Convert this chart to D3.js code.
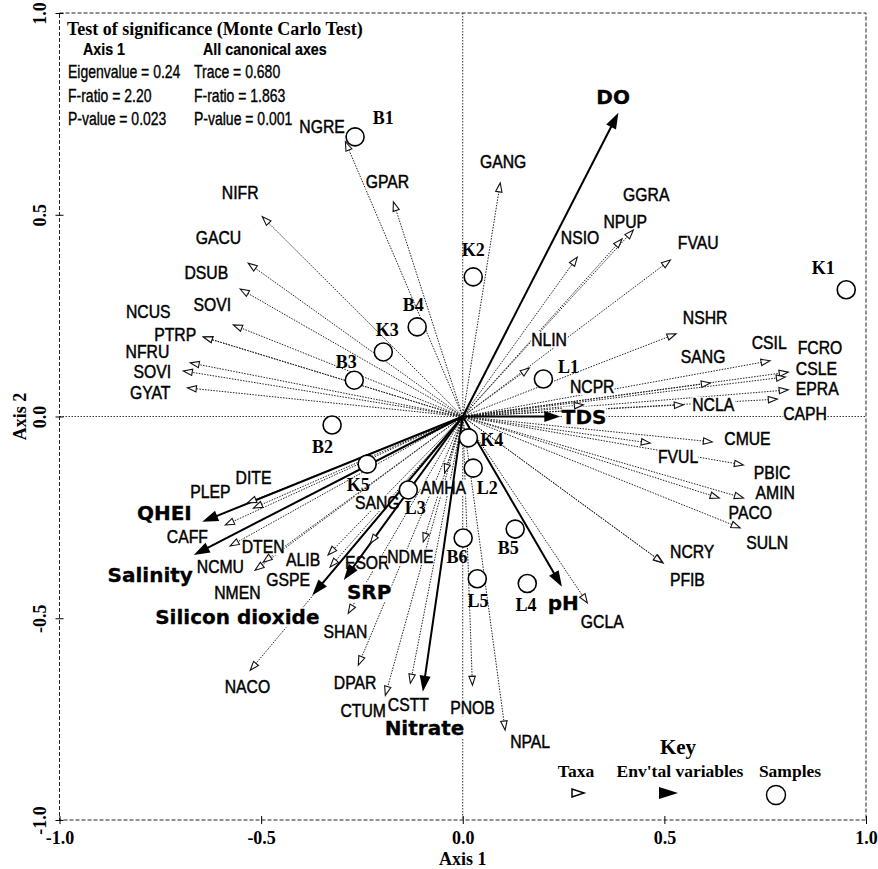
<!DOCTYPE html>
<html><head><meta charset="utf-8">
<script src="https://cdn.jsdelivr.net/npm/d3@7"></script>
<style>
body{margin:0;background:#fff;}
svg{display:block;}
</style></head><body>
<svg id="chart" width="878" height="869"></svg>
<script>
// ---------- DATA ----------
const taxaNames = ["NGRE","GPAR","GANG","NIFR","GACU","DSUB","SOVI","NCUS","PTRP","NFRU","SOVI","GYAT",
  "GGRA","NPUP","NSIO","FVAU","NLIN","NSHR","CSIL","FCRO","CSLE","EPRA","CAPH","SANG","NCPR","NCLA",
  "CMUE","FVUL","PBIC","AMIN","PACO","SULN","NCRY","PFIB","GCLA",
  "DITE","PLEP","CAFF","DTEN","NCMU","NMEN","ALIB","GSPE","SANG","AMHA","ESOR","NDME","SHAN","NACO",
  "DPAR","CTUM","CSTT","PNOB","NPAL"];
const taxaX = [-0.291,-0.172,0.093,-0.497,-0.532,-0.552,-0.569,-0.643,-0.643,-0.676,-0.693,-0.683,
  0.423,0.395,0.284,0.515,0.165,0.529,0.762,0.807,0.800,0.807,0.780,0.614,0.299,0.547,
  0.619,0.465,0.696,0.696,0.636,0.688,0.497,0.495,0.309,
  -0.519,-0.534,-0.589,-0.577,-0.495,-0.515,-0.334,-0.329,-0.160,-0.045,-0.229,-0.098,-0.284,-0.527,
  -0.259,-0.192,-0.130,0.024,0.105];
const taxaY = [0.681,0.532,0.579,0.495,0.380,0.316,0.227,0.197,0.197,0.133,0.113,0.071,
  0.462,0.440,0.395,0.388,0.120,0.205,0.138,0.110,0.098,0.066,0.043,0.083,0.029,0.029,
  -0.063,-0.066,-0.120,-0.202,-0.202,-0.276,-0.363,-0.362,-0.462,
  -0.227,-0.214,-0.269,-0.321,-0.361,-0.381,-0.343,-0.373,-0.190,-0.140,-0.314,-0.311,-0.488,-0.629,
  -0.616,-0.691,-0.661,-0.666,-0.777];
const taxaLabelX = [-0.349,-0.187,0.100,-0.552,-0.606,-0.636,-0.621,-0.780,-0.713,-0.782,-0.770,-0.775,
  0.455,0.403,0.291,0.584,0.214,0.601,0.760,0.886,0.877,0.879,0.849,0.596,0.321,0.621,
  0.706,0.534,0.767,0.775,0.713,0.755,0.569,0.557,0.346,
  -0.519,-0.626,-0.683,-0.495,-0.601,-0.559,-0.396,-0.433,-0.212,-0.048,-0.237,-0.130,-0.291,-0.534,
  -0.267,-0.247,-0.135,0.024,0.167];
const taxaLabelY = [0.718,0.581,0.629,0.554,0.442,0.356,0.276,0.259,0.202,0.160,0.110,0.058,
  0.548,0.482,0.442,0.430,0.190,0.244,0.182,0.168,0.116,0.068,0.006,0.147,0.073,0.029,
  -0.056,-0.100,-0.140,-0.190,-0.239,-0.314,-0.336,-0.405,-0.510,
  -0.152,-0.187,-0.299,-0.324,-0.373,-0.438,-0.356,-0.405,-0.214,-0.177,-0.363,-0.348,-0.535,-0.671,
  -0.661,-0.730,-0.716,-0.723,-0.807];

const envNames = ["DO","TDS","QHEI","Salinity","Silicon dioxide","SRP","Nitrate","pH"];
const envX = [0.386,0.242,-0.646,-0.667,-0.373,-0.295,-0.099,0.246];
const envY = [0.753,0.000,-0.261,-0.343,-0.443,-0.405,-0.682,-0.422];
const envLabelX = [0.373,0.301,-0.740,-0.775,-0.559,-0.232,-0.095,0.249];
const envLabelY = [0.792,0.000,-0.239,-0.393,-0.498,-0.435,-0.772,-0.462];

const sampleNames = ["K1","B1","K2","B4","K3","B3","B2","L1","K4","L2","K5","L3","B6","B5","L5","L4"];
const sampleX = [0.951,-0.267,0.026,-0.113,-0.197,-0.269,-0.324,0.200,0.014,0.026,-0.237,-0.135,0.001,0.130,0.036,0.160];
const sampleY = [0.314,0.693,0.346,0.222,0.160,0.090,-0.021,0.093,-0.053,-0.128,-0.118,-0.182,-0.301,-0.279,-0.402,-0.414];
const sampleLabelX = [0.894,-0.197,0.026,-0.123,-0.187,-0.289,-0.348,0.262,0.072,0.061,-0.259,-0.118,-0.014,0.113,0.038,0.157];
const sampleLabelY = [0.368,0.740,0.413,0.276,0.214,0.135,-0.076,0.123,-0.058,-0.177,-0.170,-0.227,-0.348,-0.326,-0.457,-0.467];

const tickValues = [-1.0,-0.5,0.0,0.5,1.0];
const tickLabels = ["-1.0","-0.5","0.0","0.5","1.0"];
const xTitle = "Axis 1", yTitle = "Axis 2";
const statsTitle = "Test of significance (Monte Carlo Test)";
const statsHeads = ["Axis 1","All canonical axes"];
const statsAxis1 = ["Eigenvalue = 0.24","F-ratio = 2.20","P-value = 0.023"];
const statsAll = ["Trace = 0.680","F-ratio = 1.863","P-value = 0.001"];
const legendTitle = "Key";
const legendItems = ["Taxa","Env'tal variables","Samples"];

// ---------- SETUP ----------
const svg = d3.select("#chart");
const x = d3.scaleLinear().domain([-1,1]).range([59.5,866]);
const y = d3.scaleLinear().domain([-1,1]).range([820,13]);
const SERIF = "'Liberation Serif','Times New Roman',serif";
const SANS = "'Liberation Sans',Arial,sans-serif";
const HEAVY = "'DejaVu Sans',sans-serif";
const ox = x(0), oy = y(0);

// frame + center lines
svg.append("rect").attr("x",x(-1)).attr("y",y(1)).attr("width",x(1)-x(-1)).attr("height",y(-1)-y(1))
  .attr("fill","none").attr("stroke","#222").attr("stroke-width",1).attr("stroke-dasharray","4,2");
svg.append("line").attr("x1",ox).attr("x2",ox).attr("y1",y(1)).attr("y2",y(-1))
  .attr("stroke","#333").attr("stroke-width",1).attr("stroke-dasharray","1.5,1.5");
svg.append("line").attr("x1",x(-1)).attr("x2",x(1)).attr("y1",oy).attr("y2",oy)
  .attr("stroke","#333").attr("stroke-width",1).attr("stroke-dasharray","1.5,1.5");

// taxa lines
const taxa = taxaNames.map((n,i)=>({n, x:taxaX[i], y:taxaY[i], lx:taxaLabelX[i], ly:taxaLabelY[i]}));
function shorten(px,py,len){
  const dx=px-ox, dy=py-oy, L=Math.hypot(dx,dy);
  return [ox+dx*(L-len)/L, oy+dy*(L-len)/L];
}
svg.append("g").selectAll("line").data(taxa).join("line")
  .attr("x1",ox).attr("y1",oy)
  .attr("x2",d=>shorten(x(d.x),y(d.y),8)[0]).attr("y2",d=>shorten(x(d.x),y(d.y),8)[1])
  .attr("stroke","#222").attr("stroke-width",1).attr("stroke-dasharray","1.5,1.3");

// labels with knockout
function label(parent, str, px, py, size, sx, family, weight, thick){
  const g = parent.append("g").attr("transform",`translate(${px},${py}) scale(${sx},1)`);
  const t = g.append("text").text(str).attr("x",0).attr("y",0)
    .attr("text-anchor","middle").attr("dominant-baseline","central")
    .style("font-family",family).style("font-size",size+"px").style("font-weight",weight).attr("fill","#000");
  if (thick) t.attr("stroke","#000").attr("stroke-width",thick);
  const b = t.node().getBBox();
  g.insert("rect","text").attr("x",b.x).attr("y",b.y+2).attr("width",b.width).attr("height",b.height-4).attr("fill","#fff");
  return g;
}
const labG = svg.append("g");
taxa.forEach(d=>label(labG,d.n,x(d.lx),y(d.ly),17.5,0.9,SANS,"normal",0.45));

// env
const env = envNames.map((n,i)=>({n,x:envX[i],y:envY[i],lx:envLabelX[i],ly:envLabelY[i]}));
env.forEach(d=>label(labG,d.n,x(d.lx),y(d.ly),20,1,HEAVY,"bold",0.3));
svg.append("g").selectAll("line").data(env).join("line")
  .attr("x1",ox).attr("y1",oy)
  .attr("x2",d=>shorten(x(d.x),y(d.y),10)[0]).attr("y2",d=>shorten(x(d.x),y(d.y),10)[1])
  .attr("stroke","#000").attr("stroke-width",2);

function ang(d){ return Math.atan2(y(d.y)-oy, x(d.x)-ox)*180/Math.PI; }
svg.append("g").selectAll("path").data(taxa).join("path")
  .attr("d","M0,0L-9,-3.2L-9,3.2Z")
  .attr("transform",d=>`translate(${x(d.x)},${y(d.y)}) rotate(${ang(d)})`)
  .attr("fill","#fff").attr("stroke","#111").attr("stroke-width",1.1);
svg.append("g").selectAll("path").data(env).join("path")
  .attr("d","M0,0L-16,-5.5L-16,5.5Z")
  .attr("transform",d=>`translate(${x(d.x)},${y(d.y)}) rotate(${ang(d)})`)
  .attr("fill","#000");

// samples
const samples = sampleNames.map((n,i)=>({n,x:sampleX[i],y:sampleY[i],lx:sampleLabelX[i],ly:sampleLabelY[i]}));
svg.append("g").selectAll("circle").data(samples).join("circle")
  .attr("cx",d=>x(d.x)).attr("cy",d=>y(d.y)).attr("r",9)
  .attr("fill","#fff").attr("stroke","#000").attr("stroke-width",1.6);
svg.append("g").selectAll("text").data(samples).join("text")
  .attr("x",d=>x(d.lx)).attr("y",d=>y(d.ly)).text(d=>d.n)
  .attr("text-anchor","middle").attr("dominant-baseline","central")
  .style("font-family",SERIF).style("font-weight","bold").style("font-size","18px");

// axes
const gx = svg.append("g").attr("transform",`translate(0,${y(-1)})`)
  .call(d3.axisBottom(x).tickValues(tickValues).tickFormat((d,i)=>tickLabels[i]).tickSize(0));
gx.select(".domain").remove();
gx.selectAll(".tick line").attr("y1",-4).attr("y2",4).attr("stroke","#000");
gx.selectAll(".tick text").attr("y",24).attr("dy",0).attr("fill","#000")
  .style("font-family",SERIF).style("font-weight","bold").style("font-size","18px");
const gy = svg.append("g").attr("transform",`translate(${x(-1)},0)`)
  .call(d3.axisLeft(y).tickValues(tickValues).tickFormat((d,i)=>tickLabels[i]).tickSize(0));
gy.select(".domain").remove();
gy.selectAll(".tick line").attr("x1",-4).attr("x2",4).attr("stroke","#000");
gy.selectAll(".tick text").attr("x",0).attr("y",-14).attr("dy",0).attr("transform","rotate(-90)")
  .style("text-anchor","middle").attr("fill","#000")
  .style("font-family",SERIF).style("font-weight","bold").style("font-size","18px");
svg.append("text").attr("x",ox).attr("y",865).attr("text-anchor","middle").text(xTitle)
  .style("font-family",SERIF).style("font-weight","bold").style("font-size","18px");
svg.append("text").attr("transform",`translate(26,${oy}) rotate(-90)`).attr("text-anchor","middle").text(yTitle)
  .style("font-family",SERIF).style("font-weight","bold").style("font-size","18px");

// stats box
svg.append("text").attr("x",67).attr("y",35).text(statsTitle)
  .style("font-family",SERIF).style("font-weight","bold").style("font-size","18px");
function plain(str,px,py,size,sx,weight){
  svg.append("g").attr("transform",`translate(${px},${py}) scale(${sx},1)`).append("text").text(str)
    .style("font-family",SANS).style("font-size",size+"px").style("font-weight",weight)
    .attr("stroke","#000").attr("stroke-width",weight==="bold"?0.2:0.35);
}
plain(statsHeads[0],83,55,17,0.84,"bold");
plain(statsHeads[1],203,55,17,0.84,"bold");
[78,102,125].forEach((yy,i)=>{
  plain(statsAxis1[i],68,yy,17.5,0.8,"normal");
  plain(statsAll[i],194,yy,17.5,0.8,"normal");
});

// legend
svg.append("text").attr("x",678).attr("y",754).attr("text-anchor","middle").text(legendTitle)
  .style("font-family",SERIF).style("font-weight","bold").style("font-size","21px");
[576,680,790].forEach((cx,i)=>svg.append("text").attr("x",cx).attr("y",777).attr("text-anchor","middle").text(legendItems[i])
  .style("font-family",SERIF).style("font-weight","bold").style("font-size","17.5px"));
svg.append("path").attr("d","M584,793L572,789L572,797Z").attr("fill","#fff").attr("stroke","#000").attr("stroke-width",1.5);
svg.append("path").attr("d","M678,793L659,787L659,799Z").attr("fill","#000");
svg.append("circle").attr("cx",776).attr("cy",795).attr("r",9.5).attr("fill","#fff").attr("stroke","#000").attr("stroke-width",1.5);
</script>
</body></html>
